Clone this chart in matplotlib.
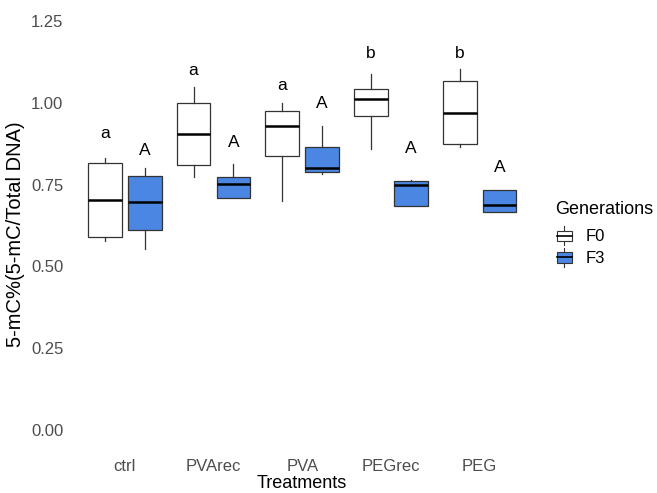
import matplotlib
matplotlib.use("Agg")
import matplotlib.pyplot as plt
from matplotlib.legend_handler import HandlerBase
from matplotlib.patches import Rectangle
from matplotlib.lines import Line2D

plt.rcParams["font.family"] = ["Liberation Sans", "DejaVu Sans"]

# datos
treatments = ["ctrl", "PVArec", "PVA", "PEGrec", "PEG"]
generations = ["F0", "F3"]

f0_whislo = [0.579, 0.774, 0.699, 0.859, 0.866]
f0_q1 = [0.590, 0.810, 0.837, 0.959, 0.874]
f0_med = [0.703, 0.906, 0.928, 1.012, 0.970]
f0_q3 = [0.815, 1.000, 0.976, 1.042, 1.066]
f0_whishi = [0.831, 1.047, 0.998, 1.089, 1.103]

f3_whislo = [0.552, 0.708, 0.783, 0.684, 0.667]
f3_q1 = [0.610, 0.708, 0.790, 0.684, 0.667]
f3_med = [0.698, 0.751, 0.800, 0.749, 0.687]
f3_q3 = [0.777, 0.774, 0.864, 0.762, 0.733]
f3_whishi = [0.800, 0.813, 0.930, 0.765, 0.733]

f0_letters = ["a", "a", "a", "b", "b"]
f0_letter_y = [0.905, 1.098, 1.052, 1.152, 1.152]
f3_letters = ["A", "A", "A", "A", "A"]
f3_letter_y = [0.854, 0.878, 0.997, 0.860, 0.802]

fill_colors = {"F0": "white", "F3": "#4a86e2"}
edge = "#333333"


def stats(lo, q1, med, q3, hi):
    return [dict(whislo=a, q1=b, med=c, q3=d, whishi=e)
            for a, b, c, d, e in zip(lo, q1, med, q3, hi)]


class BoxKey(HandlerBase):
    """Dibuja la clave de la leyenda como mini boxplot."""

    def __init__(self, face):
        super().__init__()
        self.face = face

    def create_artists(self, legend, orig_handle, xdescent, ydescent,
                       width, height, fontsize, trans):
        w = width * 0.8
        x0 = -xdescent + (width - w) / 2
        cx = x0 + w / 2
        h = height * 0.8
        y0 = -ydescent + (height - h) / 2
        rect = Rectangle((x0, y0), w, h, facecolor=self.face,
                         edgecolor=edge, lw=0.8, transform=trans)
        med = Line2D([x0, x0 + w], [y0 + h / 2] * 2, color="black",
                     lw=1.2, transform=trans)
        wh1 = Line2D([cx, cx], [y0 + h, y0 + h * 1.4], color=edge,
                     lw=0.8, transform=trans)
        wh2 = Line2D([cx, cx], [y0, y0 - h * 0.4], color=edge,
                     lw=0.8, transform=trans)
        return [wh1, wh2, rect, med]


fig = plt.figure(figsize=(6.57, 4.93), dpi=100)
ax = fig.add_axes([0.109, 0.086, 0.702, 0.913])

x = list(range(1, len(treatments) + 1))
off = 0.225
bw = 0.38

groups = [
    ("F0", stats(f0_whislo, f0_q1, f0_med, f0_q3, f0_whishi), -off),
    ("F3", stats(f3_whislo, f3_q1, f3_med, f3_q3, f3_whishi), off),
]
for gen, st, dx in groups:
    ax.bxp(st, positions=[p + dx for p in x], widths=bw, patch_artist=True,
           showfliers=False, showcaps=False,
           boxprops=dict(facecolor=fill_colors[gen], edgecolor=edge, lw=0.9),
           whiskerprops=dict(color=edge, lw=0.9),
           medianprops=dict(color="black", lw=1.8))

for i, p in enumerate(x):
    ax.text(p - off, f0_letter_y[i], f0_letters[i], ha="center", va="center",
            fontsize=12.5)
    ax.text(p + off, f3_letter_y[i], f3_letters[i], ha="center", va="center",
            fontsize=12.5)

ax.set_xlim(0.4, 5.6)
ax.set_ylim(-0.0625, 1.3125)
ax.set_yticks([0, 0.25, 0.5, 0.75, 1.0, 1.25])
ax.set_yticklabels(["0.00", "0.25", "0.50", "0.75", "1.00", "1.25"])
ax.set_xticks(x)
ax.set_xticklabels(treatments)
ax.tick_params(length=0, labelsize=12, labelcolor="#4d4d4d", pad=6)
for s in ax.spines.values():
    s.set_visible(False)

ax.set_xlabel("Treatments", fontsize=13, labelpad=1)
ax.set_ylabel("5-mC%(5-mC/Total DNA)", fontsize=14.5)
ax.yaxis.set_label_coords(-0.101, 0.48)

h0 = Rectangle((0, 0), 1, 1)
h3 = Rectangle((0, 0), 1, 1)
leg = fig.legend([h0, h3], generations, title="Generations",
                 handler_map={h0: BoxKey("white"), h3: BoxKey(fill_colors["F3"])},
                 loc="upper left", bbox_to_anchor=(0.845, 0.592),
                 frameon=False, fontsize=12, title_fontsize=13,
                 handlelength=1.1, handleheight=0.8, handletextpad=0.7,
                 labelspacing=0.4, borderaxespad=0, borderpad=0)
leg._legend_box.align = "left"
leg._legend_box.sep = 8

fig.savefig("out.png", dpi=100)
